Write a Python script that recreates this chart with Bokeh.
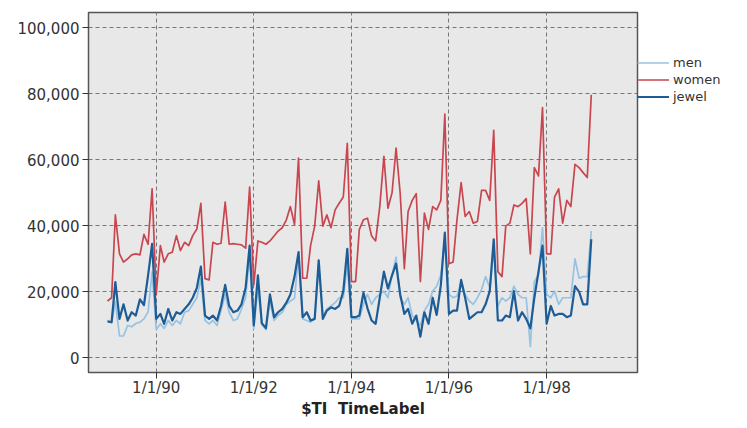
import pandas as pd
from datetime import datetime
from bokeh.plotting import figure
from bokeh.models import Range1d, FixedTicker, NumeralTickFormatter, Legend, LegendItem, ColumnDataSource
from bokeh.embed import file_html
from bokeh.resources import INLINE

# ---- data (monthly, Jan 1989 .. Dec 1998) ----
start_month = "1989-01-01"
n_months = 120

men = [11400, 10600, 17000, 6600, 6600, 9800, 9400, 10400, 10800, 11800, 13900, 26000,
       8500, 10300, 8900, 11300, 9800, 11300, 10300, 13800, 14300, 16200, 18200, 24000,
       11300, 10300, 11300, 9800, 14300, 19200, 13800, 11300, 11800, 14800, 18200, 31000,
       8900, 21000, 10000, 8500, 17000, 11300, 12800, 13800, 16200, 17200, 18000, 31000,
       11800, 11300, 10800, 11800, 28000, 12300, 14800, 15700, 16700, 18200, 18200, 28100,
       11800, 11800, 11800, 16200, 19200, 16200, 18200, 19200, 20200, 18200, 25100, 30500,
       18200, 16200, 18200, 12800, 11300, 9800, 14300, 16200, 20200, 21700, 25100, 35900,
       19200, 18200, 18700, 23100, 19200, 17200, 16200, 18200, 20700, 24600, 21200, 33000,
       15700, 18200, 17200, 18200, 21700, 19200, 18200, 18200, 3400, 23100, 25100, 39400,
       19200, 18200, 20200, 16200, 18200, 18200, 18200, 30000, 24100, 24600, 24600, 38400]

women = [17200, 18200, 43300, 31500, 29000, 30000, 31200, 31500, 31200, 37400, 34400, 51200,
         19200, 34000, 29000, 31500, 32000, 37000, 32500, 35000, 34000, 37000, 39000, 46800,
         24000, 23600, 35000, 34400, 34700, 47200, 34400, 34600, 34400, 34200, 33200, 51700,
         22100, 35400, 35000, 34400, 35400, 36900, 38400, 39400, 41800, 45800, 40400, 60500,
         24100, 24100, 34000, 39900, 53600, 39900, 43300, 39400, 44800, 46800, 48700, 65000,
         23100, 23100, 38900, 41800, 42300, 36900, 35400, 45800, 61000, 45300, 50000, 63500,
         49700, 27000, 44300, 47700, 49700, 23100, 43800, 38900, 45800, 44800, 47700, 73800,
         28500, 29000, 41800, 53100, 42800, 44300, 40800, 41300, 50700, 50700, 47700, 68900,
         26100, 24600, 39900, 40800, 46300, 45800, 46800, 48200, 31500, 57600, 55100, 75800,
         31500, 31500, 48700, 51200, 40800, 47700, 45800, 58600, 57600, 56100, 54600, 79700]

jewel = [11000, 10800, 22900, 11800, 16200, 11300, 13800, 12800, 17700, 16000, 25000, 34500,
         11800, 13300, 10300, 14800, 11300, 13800, 13300, 14800, 16200, 18200, 21200, 27600,
         12800, 11800, 12800, 11300, 15700, 22100, 15700, 13800, 14300, 16200, 21200, 34000,
         9800, 25000, 10500, 9000, 19200, 12300, 13800, 14800, 16700, 19200, 24600, 32000,
         12300, 13800, 11300, 11800, 29500, 11800, 14300, 15300, 14800, 15700, 20200, 33000,
         12300, 12300, 12800, 19700, 15000, 11300, 10300, 18200, 26100, 21000, 25000, 28500,
         19200, 13300, 14800, 10300, 12800, 6400, 13800, 10300, 18200, 13000, 22000, 37900,
         13300, 14300, 14300, 23600, 18200, 11800, 12800, 13800, 13800, 16200, 20200, 35900,
         11300, 11300, 12800, 12300, 20200, 11300, 13800, 11800, 8900, 18200, 26100, 34000,
         10300, 15700, 12800, 13300, 13300, 12300, 12800, 21700, 20000, 16200, 16200, 35900]

series_names = ["men", "women", "jewel"]
series_colors = ["#96c3e3", "#c9464f", "#1d5c95"]
series_widths = [1.7, 1.7, 2.2]

x_tick_dates = ["1990-01-01", "1992-01-01", "1994-01-01", "1996-01-01", "1998-01-01"]
x_tick_labels = ["1/1/90", "1/1/92", "1/1/94", "1/1/96", "1/1/98"]
y_ticks = [0, 20000, 40000, 60000, 80000, 100000]
x_axis_title = "$TI\u00a0\u00a0TimeLabel"

# ---- build ----
months = pd.date_range(start_month, periods=n_months, freq="MS")
source = ColumnDataSource(dict(date=months, men=men, women=women, jewel=jewel))

FONT = "DejaVu Sans"
p = figure(frame_width=549, frame_height=360, x_axis_type="datetime",
           output_backend="svg", toolbar_location=None,
           x_range=Range1d(datetime(1988, 8, 12), datetime(1999, 11, 12)),
           y_range=Range1d(-4450, 104600),
           min_border_left=88, min_border_right=0, min_border_top=12, min_border_bottom=0)

p.background_fill_color = "#e8e8e8"
p.border_fill_color = "white"
p.outline_line_color = "#555555"
p.outline_line_width = 1.5

renderers = []
for name, color, w in zip(series_names, series_colors, series_widths):
    r = p.line("date", name, source=source, line_color=color, line_width=w,
               line_join="round")
    renderers.append(r)

tick_ms = [int(pd.Timestamp(d).value // 10**6) for d in x_tick_dates]
p.xaxis.ticker = FixedTicker(ticks=tick_ms)
p.xaxis.major_label_overrides = {t: lab for t, lab in zip(tick_ms, x_tick_labels)}
p.xgrid.ticker = FixedTicker(ticks=tick_ms)
p.yaxis.ticker = FixedTicker(ticks=y_ticks)
p.ygrid.ticker = FixedTicker(ticks=y_ticks)
p.yaxis.formatter = NumeralTickFormatter(format="0,0")

for g in (p.xgrid, p.ygrid):
    g.grid_line_color = "#777777"
    g.grid_line_dash = "4 3"
    g.grid_line_width = 1

for ax in (p.xaxis, p.yaxis):
    ax.axis_line_color = "#555555"
    ax.major_tick_line_color = "#333333"
    ax.minor_tick_line_color = None
    ax.major_tick_in = 0
    ax.major_label_text_font = FONT
    ax.major_label_text_font_size = "15px"
    ax.major_label_text_color = "#333333"

p.yaxis.major_tick_out = 6
p.yaxis.major_label_standoff = 3
p.xaxis.major_tick_out = 6
p.xaxis.major_label_standoff = 0
p.xaxis.axis_label = x_axis_title
p.xaxis.axis_label_text_font = FONT
p.xaxis.axis_label_text_font_style = "bold"
p.xaxis.axis_label_text_font_size = "15px"
p.xaxis.axis_label_text_color = "#222222"
p.xaxis.axis_label_standoff = 0

legend = Legend(items=[LegendItem(label=n, renderers=[r]) for n, r in zip(series_names, renderers)],
                location="top_left", orientation="vertical")
legend.title = " "
legend.title_text_font_size = "14px"
legend.title_standoff = 26
legend.border_line_color = None
legend.background_fill_alpha = 0
legend.label_text_font = FONT
legend.label_text_font_size = "13px"
legend.label_text_color = "#333333"
legend.glyph_width = 32
legend.glyph_height = 17
legend.label_height = 17
legend.spacing = 0
legend.padding = 0
legend.margin = 0
legend.label_standoff = 4
p.add_layout(legend, "right")

open("out.html", "w").write(file_html(p, INLINE))
